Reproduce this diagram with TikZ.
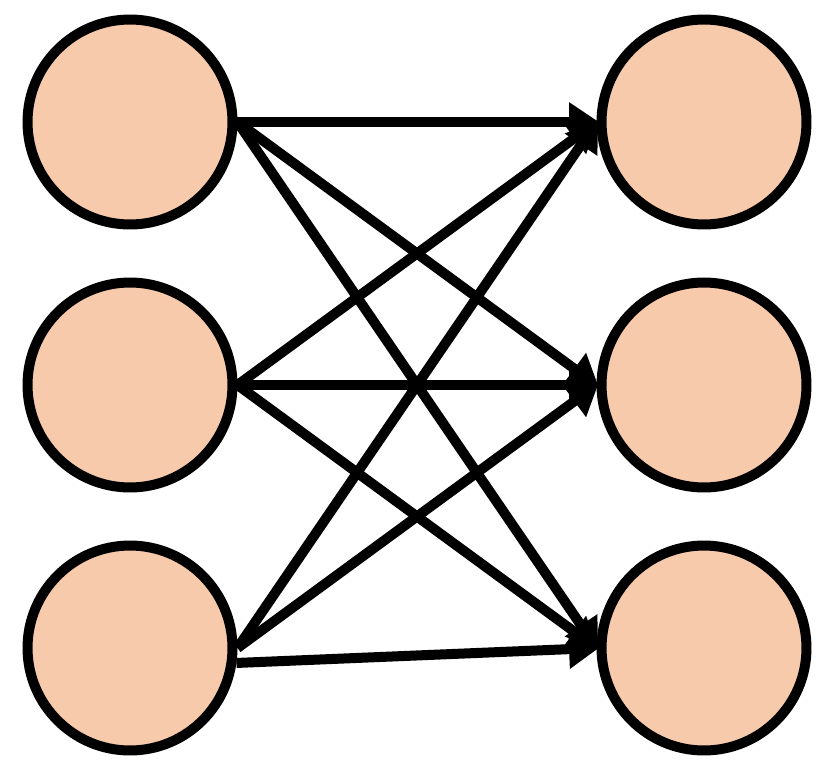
\documentclass[tikz,border=0pt]{standalone}
\usetikzlibrary{arrows.meta}
\begin{document}
\begin{tikzpicture}[x=0.02cm,y=-0.02cm,
  neuron/.style={circle,draw=black,fill=nfill,line width=0.2cm,minimum size=4.1cm,inner sep=0pt},
  conn/.style={line width=0.2cm,-{Triangle[length=0.6cm,width=0.75cm]},shorten >=-0.05cm}]
\definecolor{nfill}{HTML}{F7CAAC}
\useasboundingbox (0,0) rectangle (830,777);
\foreach \i/\y in {1/122,2/385,3/648}{
  \node[neuron] (l\i) at (130,\y) {};
  \node[neuron] (r\i) at (704,\y) {};
}
\foreach \i/\j in {1/1,1/2,1/3,2/1,2/2,2/3,3/1,3/2}{
  \draw[conn] (l\i.east) -- (r\j.west);
}
\draw[conn] (l3.-8) -- (r3.west);
\end{tikzpicture}
\end{document}
